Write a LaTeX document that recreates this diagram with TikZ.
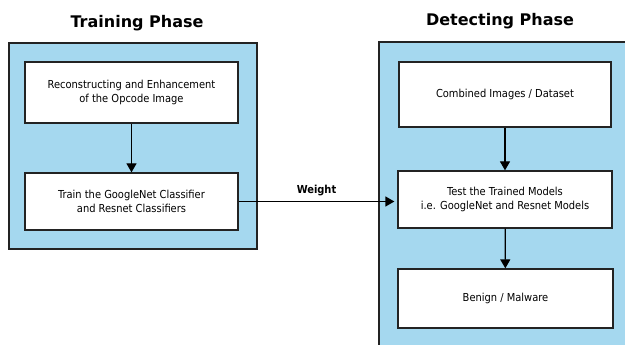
\documentclass[tikz,border=0pt]{standalone}
\usepackage{fontspec}
\setmainfont{DejaVu Sans}
\newfontfamily\boxfont{DejaVu Sans Condensed}
\usetikzlibrary{arrows.meta}

\definecolor{phaseblue}{RGB}{165,216,239}
\definecolor{edgegray}{RGB}{35,35,35}

\begin{document}
\begin{tikzpicture}[x=1pt,y=-1pt,
  panel/.style={draw=edgegray,line width=1.3pt,fill=phaseblue},
  stepbox/.style={draw=edgegray,line width=1.3pt,fill=white,align=center,
    inner sep=0pt,font=\boxfont\fontsize{11}{14}\selectfont},
  title/.style={font=\fontsize{16}{18}\bfseries\selectfont},
  flow/.style={line width=1.3pt,-{Triangle[length=9pt,width=10pt]}}]
\useasboundingbox (0,0) rectangle (625,345);
\clip (0,0) rectangle (625,345);
% panels
\draw [panel] (9,43) rectangle (257,249);
\draw [panel] (379,42) rectangle (640,360);
\node [title] (traintitle) at (137,23) {Training Phase};
\node [title] (detecttitle) at (500,21) {Detecting Phase};
% training phase
\node [stepbox,minimum width=213pt,minimum height=61pt] (recon) at (131.5,92.5)
  {Reconstructing and Enhancement\\of the Opcode Image};
\node [stepbox,minimum width=213pt,minimum height=57pt] (train) at (131.5,201.5)
  {Train the GoogleNet Classifier\\and Resnet Classifiers};
% detecting phase
\node [stepbox,minimum width=212pt,minimum height=65pt] (dataset) at (505,94.5)
  {Combined Images / Dataset};
\node [stepbox,minimum width=214pt,minimum height=57pt] (test) at (505,199.5)
  {Test the Trained Models\\i.e. GoogleNet and Resnet Models};
\node [stepbox,minimum width=215pt,minimum height=59pt] (result) at (505.5,298.5)
  {Benign / Malware};
% arrows
\draw [flow] (recon) -- (train);
\draw [flow] (dataset) -- (test);
\draw [flow] (test) -- (result);
\draw [flow] (train.east) -- node [above,font=\boxfont\fontsize{11}{12}\bfseries\selectfont,
  pos=0.5,yshift=2pt] {Weight} ([xshift=-3pt]train.east -| test.west);
\end{tikzpicture}
\end{document}
